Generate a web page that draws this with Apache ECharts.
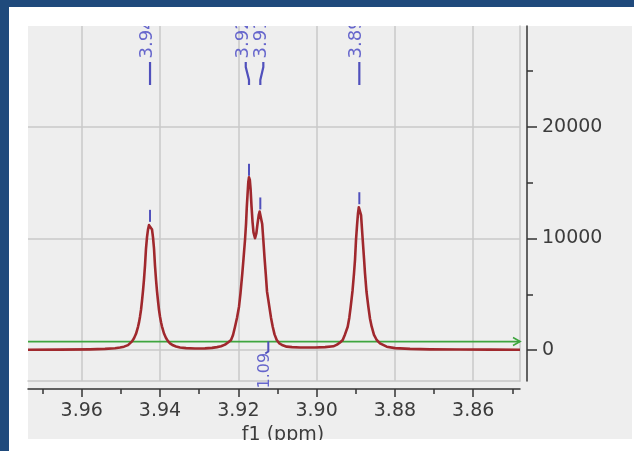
<!DOCTYPE html>
<html>
<head>
<meta charset="utf-8">
<script src="https://cdn.jsdelivr.net/npm/echarts@6/dist/echarts.min.js"></script>
<style>
  html, body { margin: 0; padding: 0; background: #ffffff; }
  #chart { width: 634px; height: 451px; }
</style>
</head>
<body>
<div id="chart"></div>
<script>
// 1H spectrum trace (chemical shift in ppm, intensity)
const spectrumPpm = [
  3.97372, 3.96554, 3.95788, 3.95405, 3.95149, 3.95022, 3.94920, 3.94817, 3.94715, 3.94664,
  3.94613, 3.94562, 3.94536, 3.94511, 3.94485, 3.94460, 3.94434, 3.94409, 3.94383, 3.94358,
  3.94332, 3.94307, 3.94281, 3.94255, 3.94230, 3.94204, 3.94179, 3.94153, 3.94128, 3.94102,
  3.94077, 3.94051, 3.94026, 3.94000, 3.93974, 3.93949, 3.93898, 3.93847, 3.93796, 3.93745,
  3.93668, 3.93591, 3.93489, 3.93336, 3.93106, 3.92851, 3.92672, 3.92544, 3.92442, 3.92340,
  3.92263, 3.92186, 3.92135, 3.92084, 3.92033, 3.91982, 3.91944, 3.91898, 3.91867, 3.91829,
  3.91803, 3.91785, 3.91765, 3.91745, 3.91727, 3.91706, 3.91686, 3.91663, 3.91637, 3.91612,
  3.91573, 3.91540, 3.91510, 3.91479, 3.91456, 3.91438, 3.91418, 3.91390, 3.91361, 3.91331,
  3.91300, 3.91267, 3.91234, 3.91208, 3.91165, 3.91121, 3.91075, 3.91019, 3.90960, 3.90884,
  3.90764, 3.90628, 3.90424, 3.90041, 3.89785, 3.89573, 3.89479, 3.89402, 3.89333, 3.89275,
  3.89206, 3.89165, 3.89129, 3.89083, 3.89045, 3.89019, 3.88994, 3.88968, 3.88943, 3.88922,
  3.88909, 3.88891, 3.88865, 3.88822, 3.88789, 3.88764, 3.88725, 3.88679, 3.88636, 3.88593,
  3.88534, 3.88465, 3.88381, 3.88210, 3.87997, 3.87614, 3.87103, 3.86337, 3.85571, 3.84805
];
const spectrumIntensity = [
  20, 30, 60, 100, 160, 220, 300, 440, 770, 1055,
  1450, 2080, 2480, 2990, 3610, 4410, 5320, 6340, 7590, 9100,
  10120, 10800, 11200, 11360, 11200, 10800, 10100, 9080, 7560, 6300,
  5280, 4380, 3600, 2980, 2490, 2100, 1480, 1080, 800, 600,
  420, 320, 230, 170, 140, 150, 190, 260, 330, 480,
  680, 900, 1350, 2090, 2900, 3885, 5100, 6880, 8200, 9865,
  11300, 12700, 13900, 15050, 15490, 15250, 14400, 12900, 11500, 10550,
  10020, 10450, 11300, 12100, 12420, 12470, 12250, 11300, 9865, 8300,
  6880, 5250, 4500, 3885, 2900, 2090, 1400, 897, 620, 450,
  300, 260, 230, 230, 260, 330, 480, 680, 900, 1400,
  2090, 2900, 3885, 5300, 6880, 8100, 9865, 11150, 12250, 12800,
  12940, 12820, 12100, 9865, 8200, 6880, 5200, 3885, 2800, 2090,
  1350, 897, 600, 300, 170, 100, 60, 40, 30, 20
];

// Picked peaks
const peakPpm = [3.94255, 3.91727, 3.91438, 3.88909];
const peakHeight = [11360, 15490, 12470, 12940];
const peakText = ['3.94', '3.92', '3.91', '3.89'];
const peakLabelPpm = [3.94255, 3.91810, 3.91361, 3.88909];

// Integral
const integralSpan = [3.97372, 3.84805];
const integralLevel = 760;
const integralLabelPpm = [3.91234];
const integralText = ['1.09'];

// Axes
const xRange = [3.84805, 3.97372];
const yRange = [-2780, 29058];
const xMajorTicks = [3.96, 3.94, 3.92, 3.90, 3.88, 3.86];
const xMinorTicks = [3.97, 3.95, 3.93, 3.91, 3.89, 3.87, 3.85];
const yMajorTicks = [0, 10000, 20000];
const yMinorTicks = [5000, 15000, 25000];

const FONT = 'DejaVu Sans';
const AXIS_DARK = '#333333';
const GRID_GREY = '#c8c8c8';
const PEAK_BLUE = '#5050bc';
const PEAK_TEXT = '#6666cc';

const chart = echarts.init(document.getElementById('chart'), null, { renderer: 'canvas' });

const spectrum = spectrumPpm.map((p, i) => [p, spectrumIntensity[i]]);
const peaks = peakPpm.map((p, i) => [p, peakHeight[i], peakLabelPpm[i]]);
const integralLine = [
  { value: [integralSpan[0], integralLevel], symbol: 'none' },
  { value: [integralSpan[1], integralLevel] }
];
const integralLabels = integralLabelPpm.map(p => [p, integralLevel]);

function baseX(extra) {
  return Object.assign({
    type: 'value', inverse: true, min: xRange[0], max: xRange[1], position: 'bottom',
    axisLine: { show: false, onZero: false },
    axisTick: { show: false },
    axisLabel: { show: false },
    splitLine: { show: false }
  }, extra);
}
function baseY(extra) {
  return Object.assign({
    type: 'value', min: yRange[0], max: yRange[1], position: 'right',
    axisLine: { show: false, onZero: false },
    axisTick: { show: false },
    axisLabel: { show: false },
    splitLine: { show: false }
  }, extra);
}

const option = {
  backgroundColor: '#ffffff',
  animation: false,
  graphic: [
    { type: 'rect', z: -20, silent: true, shape: { x: 0, y: 0, width: 634, height: 7 }, style: { fill: '#1f4a7c' } },
    { type: 'rect', z: -20, silent: true, shape: { x: 0, y: 0, width: 9, height: 451 }, style: { fill: '#1f4a7c' } },
    { type: 'rect', z: -20, silent: true, shape: { x: 28, y: 26, width: 604, height: 413 }, style: { fill: '#eeeeee' } },
    { type: 'rect', z: 100, silent: true, shape: { x: 9, y: 440, width: 625, height: 11 }, style: { fill: '#ffffff' } }
  ],
  grid: { left: 28, right: 114, top: 26, bottom: 70, containLabel: false },
  xAxis: [
    baseX({
      offset: 8,
      axisLine: { show: true, onZero: false, lineStyle: { color: AXIS_DARK, width: 1.5 } },
      axisTick: { show: true, customValues: xMajorTicks, length: 8, lineStyle: { color: AXIS_DARK, width: 1.5 } },
      axisLabel: {
        show: true, customValues: xMajorTicks, margin: 13,
        formatter: v => v.toFixed(2),
        color: '#3c3c3c', fontFamily: FONT, fontSize: 19
      },
      splitLine: { show: true, lineStyle: { color: GRID_GREY, width: 1.5 } },
      name: 'f1 (ppm)', nameLocation: 'middle', nameGap: 33,
      nameTextStyle: { color: '#3c3c3c', fontFamily: FONT, fontSize: 19, padding: [0, 0, 0, 18] }
    }),
    baseX({
      offset: 8,
      axisTick: { show: true, customValues: xMinorTicks, length: 5, lineStyle: { color: AXIS_DARK, width: 1.5 } }
    }),
    baseX({
      offset: 0,
      axisLine: { show: true, onZero: false, lineStyle: { color: GRID_GREY, width: 1.5 } }
    })
  ],
  yAxis: [
    baseY({
      offset: 7,
      axisLine: { show: true, onZero: false, lineStyle: { color: AXIS_DARK, width: 1.5 } },
      axisTick: { show: true, customValues: yMajorTicks, length: 10, lineStyle: { color: AXIS_DARK, width: 1.5 } },
      axisLabel: {
        show: true, customValues: yMajorTicks, margin: 15,
        formatter: v => String(v),
        color: '#3c3c3c', fontFamily: FONT, fontSize: 19
      },
      splitLine: { show: true, lineStyle: { color: GRID_GREY, width: 1.5 } }
    }),
    baseY({
      offset: 7,
      axisTick: { show: true, customValues: yMinorTicks, length: 6, lineStyle: { color: AXIS_DARK, width: 1.5 } }
    }),
    baseY({
      offset: 0,
      axisLine: { show: true, onZero: false, lineStyle: { color: GRID_GREY, width: 1.5 } }
    })
  ],
  series: [
    {
      name: 'integral',
      type: 'line',
      xAxisIndex: 0, yAxisIndex: 0,
      data: integralLine,
      symbol: 'path://M0,0L6,3.5L0,7',
      symbolSize: [7, 8],
      symbolOffset: [-3.5, 0],
      showSymbol: true,
      lineStyle: { color: '#3ea53e', width: 1.7 },
      itemStyle: { color: 'none', borderColor: '#3ea53e', borderWidth: 1.7 },
      z: 3
    },
    {
      name: 'spectrum',
      type: 'line',
      xAxisIndex: 0, yAxisIndex: 0,
      data: spectrum,
      showSymbol: false,
      symbol: 'none',
      lineStyle: { color: '#a0282d', width: 2.6, join: 'round' },
      z: 4
    },
    {
      name: 'peak labels',
      type: 'custom',
      xAxisIndex: 0, yAxisIndex: 0,
      clip: true,
      data: peaks,
      z: 5,
      renderItem: function (params, api) {
        const i = params.dataIndex;
        const top = params.coordSys.y;
        const peakPt = api.coord([api.value(0), api.value(1)]);
        const labPt = api.coord([api.value(2), api.value(1)]);
        return {
          type: 'group',
          children: [
            {
              type: 'text',
              x: labPt[0] - 2.5, y: top + 32.5,
              rotation: Math.PI / 2,
              style: { text: peakText[i], fill: PEAK_TEXT, font: '18px "DejaVu Sans"', align: 'left', verticalAlign: 'middle' }
            },
            {
              type: 'polyline',
              shape: { points: [[labPt[0], top + 36], [labPt[0], top + 41], [peakPt[0], top + 54], [peakPt[0], top + 59]] },
              style: { stroke: PEAK_BLUE, lineWidth: 2.2, fill: null }
            },
            {
              type: 'line',
              shape: { x1: peakPt[0], y1: peakPt[1] - 1.5, x2: peakPt[0], y2: peakPt[1] - 13.5 },
              style: { stroke: PEAK_BLUE, lineWidth: 2 }
            }
          ]
        };
      }
    },
    {
      name: 'integral labels',
      type: 'custom',
      xAxisIndex: 0, yAxisIndex: 0,
      clip: false,
      data: integralLabels,
      z: 5,
      renderItem: function (params, api) {
        const i = params.dataIndex;
        const pt = api.coord([api.value(0), api.value(1)]);
        return {
          type: 'group',
          children: [
            {
              type: 'polyline',
              shape: { points: [[pt[0], pt[1]], [pt[0], pt[1] + 10], [pt[0] - 3, pt[1] + 12]] },
              style: { stroke: PEAK_BLUE, lineWidth: 2, fill: null }
            },
            {
              type: 'text',
              x: pt[0] - 3.5, y: pt[1] + 47,
              rotation: Math.PI / 2,
              style: { text: integralText[i], fill: PEAK_TEXT, font: '16px "DejaVu Sans"', align: 'left', verticalAlign: 'middle' }
            }
          ]
        };
      }
    }
  ]
};

chart.setOption(option);
</script>
</body>
</html>
